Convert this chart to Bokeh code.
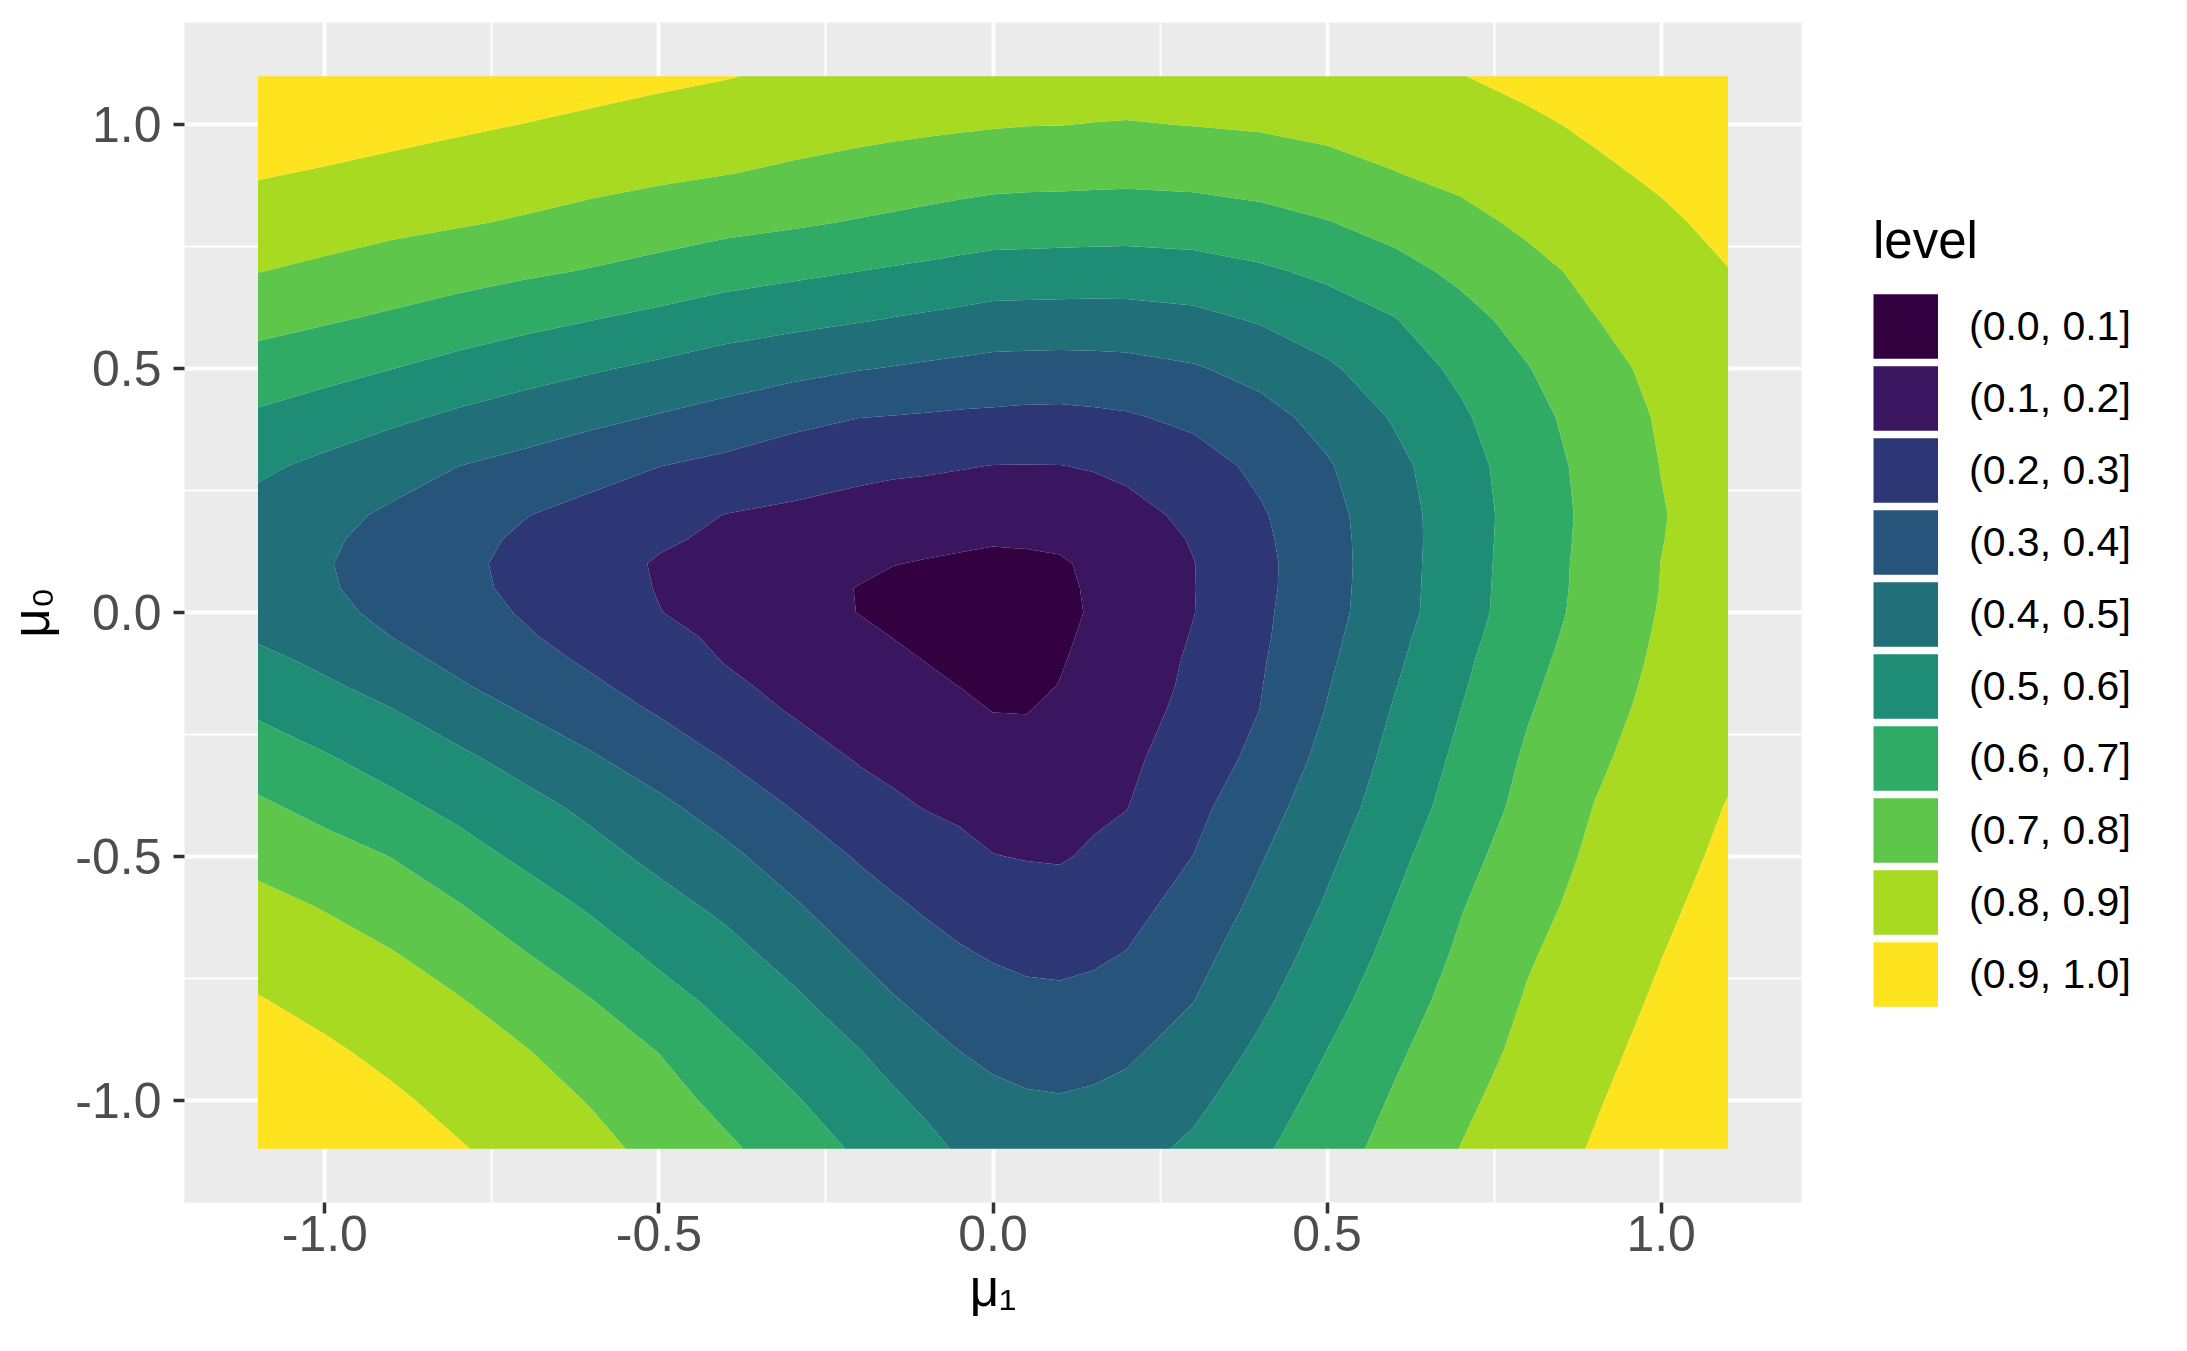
import numpy as np
from bokeh.plotting import figure
from bokeh.models import Range1d, FixedTicker, PrintfTickFormatter, Legend, LegendItem
from bokeh.embed import file_html
from bokeh.resources import INLINE

# ---- data ----
# grid positions (finer near the centre, where the contours bend most)
mu1 = [-1.1, -1.0, -0.9, -0.8, -0.7, -0.6, -0.5, -0.4, -0.3, -0.2, -0.15, -0.1, -0.05, 0.0,
       0.05, 0.1, 0.15, 0.2, 0.3, 0.4, 0.5, 0.6, 0.7, 0.8, 0.9, 1.0, 1.1]
mu0 = [-1.1, -1.0, -0.9, -0.8, -0.7, -0.6, -0.5, -0.4, -0.3, -0.2, -0.15, -0.1, -0.05, 0.0,
       0.05, 0.1, 0.15, 0.2, 0.3, 0.4, 0.5, 0.6, 0.7, 0.8, 0.9, 1.0, 1.1]

# level value at (mu1[i], mu0[j]); one row per mu0 value, from mu0 = -1.1 up to 1.1
level_grid = [
    [0.990, 0.980, 0.951, 0.907, 0.866, 0.824, 0.776, 0.717, 0.652, 0.586, 0.554, 0.529, 0.488, 0.466, 0.454, 0.450, 0.454, 0.467, 0.517, 0.585, 0.658, 0.732, 0.802, 0.855, 0.907, 0.955, 0.993],
    [0.980, 0.951, 0.914, 0.874, 0.836, 0.794, 0.737, 0.673, 0.609, 0.544, 0.515, 0.479, 0.444, 0.423, 0.410, 0.406, 0.413, 0.426, 0.478, 0.553, 0.630, 0.709, 0.782, 0.840, 0.892, 0.944, 0.988],
    [0.951, 0.914, 0.878, 0.841, 0.805, 0.749, 0.698, 0.625, 0.564, 0.503, 0.465, 0.429, 0.400, 0.379, 0.367, 0.362, 0.371, 0.386, 0.439, 0.518, 0.601, 0.684, 0.759, 0.823, 0.876, 0.929, 0.982],
    [0.907, 0.874, 0.841, 0.808, 0.755, 0.704, 0.638, 0.577, 0.519, 0.448, 0.409, 0.380, 0.355, 0.335, 0.323, 0.319, 0.327, 0.344, 0.400, 0.483, 0.568, 0.655, 0.737, 0.808, 0.861, 0.913, 0.965],
    [0.866, 0.836, 0.805, 0.755, 0.703, 0.645, 0.581, 0.530, 0.467, 0.392, 0.360, 0.333, 0.309, 0.292, 0.280, 0.277, 0.286, 0.303, 0.370, 0.452, 0.537, 0.627, 0.715, 0.791, 0.846, 0.898, 0.950],
    [0.824, 0.794, 0.749, 0.704, 0.645, 0.586, 0.530, 0.479, 0.410, 0.342, 0.313, 0.287, 0.266, 0.249, 0.238, 0.238, 0.249, 0.268, 0.336, 0.422, 0.509, 0.601, 0.694, 0.770, 0.831, 0.882, 0.934],
    [0.776, 0.737, 0.698, 0.638, 0.581, 0.530, 0.477, 0.421, 0.354, 0.291, 0.264, 0.241, 0.223, 0.202, 0.196, 0.192, 0.212, 0.233, 0.301, 0.393, 0.482, 0.574, 0.669, 0.750, 0.816, 0.867, 0.918],
    [0.717, 0.673, 0.625, 0.577, 0.530, 0.479, 0.421, 0.360, 0.297, 0.241, 0.215, 0.197, 0.185, 0.171, 0.163, 0.172, 0.184, 0.198, 0.275, 0.362, 0.454, 0.545, 0.641, 0.729, 0.802, 0.853, 0.904],
    [0.652, 0.609, 0.564, 0.519, 0.467, 0.410, 0.354, 0.297, 0.244, 0.193, 0.178, 0.164, 0.151, 0.137, 0.131, 0.144, 0.164, 0.183, 0.244, 0.327, 0.428, 0.526, 0.620, 0.713, 0.786, 0.838, 0.886],
    [0.586, 0.544, 0.503, 0.448, 0.392, 0.342, 0.291, 0.241, 0.193, 0.161, 0.146, 0.132, 0.117, 0.098, 0.097, 0.117, 0.144, 0.166, 0.223, 0.301, 0.404, 0.506, 0.600, 0.693, 0.769, 0.826, 0.872],
    [0.554, 0.515, 0.465, 0.409, 0.360, 0.313, 0.264, 0.215, 0.178, 0.146, 0.130, 0.114, 0.099, 0.080, 0.083, 0.102, 0.128, 0.155, 0.217, 0.296, 0.395, 0.495, 0.590, 0.683, 0.760, 0.821, 0.867],
    [0.529, 0.479, 0.429, 0.380, 0.333, 0.287, 0.241, 0.197, 0.164, 0.132, 0.114, 0.099, 0.079, 0.060, 0.071, 0.095, 0.120, 0.150, 0.212, 0.291, 0.385, 0.484, 0.581, 0.673, 0.751, 0.816, 0.862],
    [0.488, 0.444, 0.400, 0.355, 0.309, 0.266, 0.223, 0.185, 0.151, 0.117, 0.099, 0.079, 0.059, 0.042, 0.062, 0.088, 0.114, 0.144, 0.205, 0.285, 0.376, 0.474, 0.570, 0.662, 0.743, 0.811, 0.859],
    [0.466, 0.423, 0.379, 0.335, 0.292, 0.249, 0.202, 0.171, 0.137, 0.098, 0.080, 0.060, 0.042, 0.022, 0.051, 0.081, 0.108, 0.139, 0.198, 0.282, 0.368, 0.462, 0.560, 0.652, 0.735, 0.806, 0.856],
    [0.454, 0.410, 0.367, 0.323, 0.280, 0.238, 0.196, 0.163, 0.131, 0.097, 0.083, 0.071, 0.062, 0.051, 0.063, 0.088, 0.108, 0.138, 0.197, 0.277, 0.365, 0.460, 0.558, 0.650, 0.731, 0.802, 0.854],
    [0.450, 0.406, 0.362, 0.319, 0.277, 0.238, 0.192, 0.172, 0.144, 0.117, 0.102, 0.095, 0.088, 0.081, 0.088, 0.092, 0.113, 0.142, 0.198, 0.276, 0.363, 0.459, 0.556, 0.648, 0.730, 0.801, 0.853],
    [0.454, 0.413, 0.371, 0.327, 0.286, 0.249, 0.212, 0.184, 0.164, 0.144, 0.128, 0.120, 0.114, 0.108, 0.108, 0.113, 0.127, 0.155, 0.206, 0.282, 0.366, 0.458, 0.554, 0.646, 0.727, 0.797, 0.853],
    [0.467, 0.426, 0.386, 0.344, 0.303, 0.268, 0.233, 0.198, 0.183, 0.166, 0.155, 0.150, 0.144, 0.139, 0.138, 0.142, 0.155, 0.170, 0.221, 0.290, 0.370, 0.460, 0.553, 0.644, 0.725, 0.794, 0.854],
    [0.517, 0.478, 0.439, 0.400, 0.370, 0.336, 0.301, 0.275, 0.244, 0.223, 0.217, 0.212, 0.205, 0.198, 0.197, 0.198, 0.206, 0.221, 0.260, 0.320, 0.391, 0.474, 0.562, 0.650, 0.731, 0.802, 0.856],
    [0.585, 0.553, 0.518, 0.483, 0.452, 0.422, 0.393, 0.362, 0.327, 0.301, 0.296, 0.291, 0.285, 0.282, 0.277, 0.276, 0.282, 0.290, 0.320, 0.367, 0.431, 0.508, 0.586, 0.668, 0.744, 0.810, 0.862],
    [0.658, 0.630, 0.601, 0.568, 0.537, 0.509, 0.482, 0.454, 0.428, 0.404, 0.395, 0.385, 0.376, 0.368, 0.365, 0.363, 0.366, 0.370, 0.391, 0.431, 0.486, 0.551, 0.619, 0.696, 0.766, 0.825, 0.872],
    [0.732, 0.709, 0.684, 0.655, 0.627, 0.601, 0.574, 0.545, 0.526, 0.506, 0.495, 0.484, 0.474, 0.462, 0.460, 0.459, 0.458, 0.460, 0.474, 0.508, 0.551, 0.595, 0.667, 0.734, 0.797, 0.841, 0.885],
    [0.802, 0.782, 0.759, 0.737, 0.715, 0.694, 0.669, 0.641, 0.620, 0.600, 0.590, 0.581, 0.570, 0.560, 0.558, 0.556, 0.554, 0.553, 0.562, 0.586, 0.619, 0.667, 0.721, 0.774, 0.823, 0.866, 0.898],
    [0.855, 0.840, 0.823, 0.808, 0.791, 0.770, 0.750, 0.729, 0.713, 0.693, 0.683, 0.673, 0.662, 0.652, 0.650, 0.648, 0.646, 0.644, 0.650, 0.668, 0.696, 0.734, 0.774, 0.817, 0.852, 0.886, 0.921],
    [0.907, 0.892, 0.876, 0.861, 0.846, 0.831, 0.816, 0.802, 0.786, 0.769, 0.760, 0.751, 0.743, 0.735, 0.731, 0.730, 0.727, 0.725, 0.731, 0.744, 0.766, 0.797, 0.823, 0.852, 0.885, 0.913, 0.945],
    [0.955, 0.944, 0.929, 0.913, 0.898, 0.882, 0.867, 0.853, 0.838, 0.826, 0.821, 0.816, 0.811, 0.806, 0.802, 0.801, 0.797, 0.794, 0.802, 0.810, 0.825, 0.841, 0.866, 0.886, 0.913, 0.952, 0.972],
    [0.993, 0.988, 0.982, 0.965, 0.950, 0.934, 0.918, 0.904, 0.886, 0.872, 0.867, 0.862, 0.859, 0.856, 0.854, 0.853, 0.853, 0.854, 0.856, 0.862, 0.872, 0.885, 0.898, 0.921, 0.945, 0.972, 0.990],
]

level_breaks = [0.0, 0.1, 0.2, 0.3, 0.4, 0.5, 0.6, 0.7, 0.8, 0.9, 1.0]
level_labels = ["(0.0, 0.1]", "(0.1, 0.2]", "(0.2, 0.3]", "(0.3, 0.4]", "(0.4, 0.5]",
                "(0.5, 0.6]", "(0.6, 0.7]", "(0.7, 0.8]", "(0.8, 0.9]", "(0.9, 1.0]"]
level_colors = ["#330040", "#3A1660", "#2E3775", "#26547A", "#206F79",
                "#1F8D76", "#2FAB66", "#5EC74B", "#A7DA21", "#FDE41F"]

axis_ticks = [-1.0, -0.5, 0.0, 0.5, 1.0]
minor_ticks = [-0.75, -0.25, 0.25, 0.75]

FONT = "Liberation Sans"

p = figure(frame_width=1617, frame_height=1180,
           min_border_left=182, min_border_right=372,
           min_border_top=22, min_border_bottom=133,
           x_range=Range1d(-1.21, 1.21), y_range=Range1d(-1.21, 1.21),
           output_backend="svg", toolbar_location=None,
           background_fill_color="#EBEBEB", border_fill_color="white")
p.outline_line_color = None

p.contour(x=np.array(mu1), y=np.array(mu0), z=np.array(level_grid),
          levels=level_breaks, fill_color=level_colors)

for ax, grid in ((p.xaxis[0], p.xgrid[0]), (p.yaxis[0], p.ygrid[0])):
    tk = FixedTicker(ticks=axis_ticks, minor_ticks=minor_ticks)
    ax.ticker = tk
    grid.ticker = tk
    ax.formatter = PrintfTickFormatter(format="%.1f")
    ax.axis_line_color = None
    ax.major_tick_out = 11
    ax.major_tick_in = 0
    ax.minor_tick_out = 0
    ax.minor_tick_in = 0
    ax.major_tick_line_color = "#333333"
    ax.major_tick_line_width = 3.5
    ax.major_label_text_font = FONT
    ax.major_label_text_font_size = "50px"
    ax.major_label_text_color = "#4D4D4D"
    ax.axis_label_text_font = FONT
    ax.axis_label_text_font_size = "51px"
    ax.axis_label_text_font_style = "normal"
    ax.axis_label_text_color = "black"
    grid.grid_line_color = "white"
    grid.grid_line_width = 4
    grid.minor_grid_line_color = "white"
    grid.minor_grid_line_width = 2

p.xaxis.axis_label = "\u03bc\u2081"
p.yaxis.axis_label = "\u03bc\u2080"
p.xaxis.major_label_standoff = 2
p.xaxis.axis_label_standoff = 6
p.yaxis.major_label_standoff = 12
p.yaxis.axis_label_standoff = 12

# legend keys: a thick butt-capped line fills an exact rectangle in the legend
items = []
for lab, col in zip(level_labels, level_colors):
    r = p.line(x=[np.nan, np.nan], y=[np.nan, np.nan], line_color=col, line_width=64.5)
    items.append(LegendItem(label=lab, renderers=[r], index=0))

legend = Legend(items=items, title="level", location=(72, 192),
                title_text_font=FONT, title_text_font_size="51px",
                title_text_font_style="normal", title_text_color="black",
                title_standoff=20,
                label_text_font=FONT, label_text_font_size="41px",
                label_text_color="black",
                glyph_width=65, glyph_height=72, spacing=0,
                label_standoff=31, label_height=72,
                padding=0, margin=0,
                border_line_color=None, background_fill_alpha=0.0)
p.add_layout(legend, "right")

open("out.html", "w").write(file_html(p, INLINE))
